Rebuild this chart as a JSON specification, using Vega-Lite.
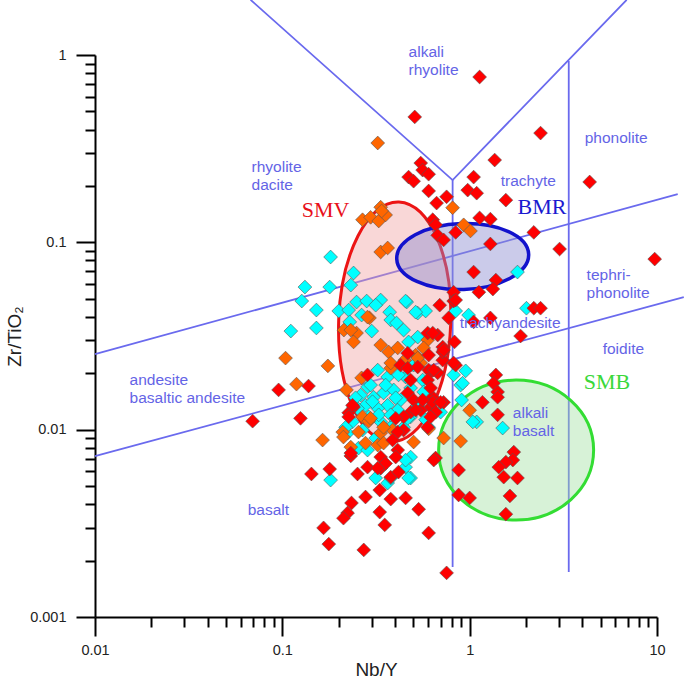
{
  "$schema": "https://vega.github.io/schema/vega-lite/v6.json",
  "width": 562,
  "height": 562,
  "autosize": "none",
  "padding": {"left": 95, "top": 55, "right": 28, "bottom": 69},
  "background": "white",
  "config": {
    "view": {"stroke": null},
    "axis": {
      "grid": false, "domainColor": "#000", "domainWidth": 2, "tickColor": "#000", "tickWidth": 2,
      "labelFont": "Liberation Sans", "labelFontSize": 14.5, "labelColor": "#222",
      "labelFlush": false, "labelOverlap": false,
      "titleFont": "Liberation Sans", "titleFontSize": 19, "titleFontWeight": "normal", "titleColor": "#222"
    }
  },
  "datasets": {
    "lines": [
      {"seg": "a", "pt": 1, "nb_y": 0.01, "zr_tio2": 0.0253}, {"seg": "a", "pt": 2, "nb_y": 12.9, "zr_tio2": 0.181},
      {"seg": "b", "pt": 1, "nb_y": 0.01, "zr_tio2": 0.00723}, {"seg": "b", "pt": 2, "nb_y": 13.9, "zr_tio2": 0.051},
      {"seg": "c", "pt": 1, "nb_y": 0.0677, "zr_tio2": 1.97}, {"seg": "c", "pt": 2, "nb_y": 0.811, "zr_tio2": 0.215}, {"seg": "c", "pt": 3, "nb_y": 6.89, "zr_tio2": 1.97},
      {"seg": "d", "pt": 1, "nb_y": 0.811, "zr_tio2": 0.215}, {"seg": "d", "pt": 2, "nb_y": 0.811, "zr_tio2": 0.00185},
      {"seg": "e", "pt": 1, "nb_y": 3.38, "zr_tio2": 0.929}, {"seg": "e", "pt": 2, "nb_y": 3.38, "zr_tio2": 0.00174}
    ],
    "regions": [
      {"region": "SMV", "nb_y": 0.398, "zr_tio2": 0.0376},
      {"region": "BMR", "nb_y": 0.918, "zr_tio2": 0.084},
      {"region": "SMB", "nb_y": 1.77, "zr_tio2": 0.00778}
    ],
    "region_labels": [
      {"region": "SMV", "nb_y": 0.127, "zr_tio2": 0.136},
      {"region": "BMR", "nb_y": 1.8, "zr_tio2": 0.1425},
      {"region": "SMB", "nb_y": 4.06, "zr_tio2": 0.0164}
    ],
    "zones": [
      {"zone": "alkali\nrhyolite", "nb_y": 0.472, "zr_tio2": 0.97},
      {"zone": "rhyolite\ndacite", "nb_y": 0.0685, "zr_tio2": 0.236},
      {"zone": "trachyte", "nb_y": 1.464, "zr_tio2": 0.201},
      {"zone": "phonolite", "nb_y": 4.11, "zr_tio2": 0.341},
      {"zone": "tephri-\nphonolite", "nb_y": 4.21, "zr_tio2": 0.0633},
      {"zone": "trachyandesite", "nb_y": 0.885, "zr_tio2": 0.0351},
      {"zone": "foidite", "nb_y": 5.13, "zr_tio2": 0.0252},
      {"zone": "andesite\nbasaltic andesite", "nb_y": 0.0153, "zr_tio2": 0.0174},
      {"zone": "basalt", "nb_y": 0.0653, "zr_tio2": 0.00352},
      {"zone": "alkali\nbasalt", "nb_y": 1.7, "zr_tio2": 0.0115}
    ],
    "points": [
      {"g": "G3", "nb_y": 0.181, "zr_tio2": 0.0835}, {"g": "G3", "nb_y": 0.24, "zr_tio2": 0.0686}, {"g": "G3", "nb_y": 0.232, "zr_tio2": 0.0591}, {"g": "G3", "nb_y": 0.179, "zr_tio2": 0.0577}, {"g": "G3", "nb_y": 0.132, "zr_tio2": 0.0577}, {"g": "G3", "nb_y": 0.127, "zr_tio2": 0.0486}, {"g": "G3", "nb_y": 0.152, "zr_tio2": 0.0435}, {"g": "G3", "nb_y": 0.111, "zr_tio2": 0.0336}, {"g": "G3", "nb_y": 0.152, "zr_tio2": 0.0349}, {"g": "G3", "nb_y": 0.2, "zr_tio2": 0.043}, {"g": "G3", "nb_y": 0.226, "zr_tio2": 0.0435}, {"g": "G3", "nb_y": 0.249, "zr_tio2": 0.048}, {"g": "G3", "nb_y": 0.282, "zr_tio2": 0.0486}, {"g": "G3", "nb_y": 0.335, "zr_tio2": 0.0492}, {"g": "G3", "nb_y": 0.315, "zr_tio2": 0.0462}, {"g": "G3", "nb_y": 0.265, "zr_tio2": 0.0409}, {"g": "G3", "nb_y": 0.229, "zr_tio2": 0.0376}, {"g": "G3", "nb_y": 0.3, "zr_tio2": 0.0336}, {"g": "G3", "nb_y": 0.374, "zr_tio2": 0.0424}, {"g": "G3", "nb_y": 0.379, "zr_tio2": 0.0385}, {"g": "G3", "nb_y": 0.407, "zr_tio2": 0.0371}, {"g": "G3", "nb_y": 0.444, "zr_tio2": 0.034}, {"g": "G3", "nb_y": 0.461, "zr_tio2": 0.048}, {"g": "G3", "nb_y": 0.528, "zr_tio2": 0.0419}, {"g": "G3", "nb_y": 0.582, "zr_tio2": 0.043}, {"g": "G3", "nb_y": 0.842, "zr_tio2": 0.043}, {"g": "G3", "nb_y": 0.528, "zr_tio2": 0.0312}, {"g": "G3", "nb_y": 0.472, "zr_tio2": 0.0294}, {"g": "G3", "nb_y": 1.8, "zr_tio2": 0.0694}, {"g": "G3", "nb_y": 2.01, "zr_tio2": 0.0445}, {"g": "G3", "nb_y": 0.987, "zr_tio2": 0.0409}, {"g": "G3", "nb_y": 0.821, "zr_tio2": 0.0196}, {"g": "G3", "nb_y": 0.952, "zr_tio2": 0.0206}, {"g": "G3", "nb_y": 0.895, "zr_tio2": 0.0173}, {"g": "G3", "nb_y": 0.906, "zr_tio2": 0.0144}, {"g": "G3", "nb_y": 1.09, "zr_tio2": 0.011}, {"g": "G3", "nb_y": 1.5, "zr_tio2": 0.0102}, {"g": "G3", "nb_y": 0.455, "zr_tio2": 0.0486}, {"g": "G3", "nb_y": 0.515, "zr_tio2": 0.0424}, {"g": "G3", "nb_y": 0.502, "zr_tio2": 0.0221}, {"g": "G3", "nb_y": 0.455, "zr_tio2": 0.0191}, {"g": "G3", "nb_y": 0.561, "zr_tio2": 0.0184}, {"g": "G3", "nb_y": 0.484, "zr_tio2": 0.0167}, {"g": "G3", "nb_y": 0.568, "zr_tio2": 0.0159}, {"g": "G3", "nb_y": 0.528, "zr_tio2": 0.0135}, {"g": "G3", "nb_y": 0.484, "zr_tio2": 0.0117}, {"g": "G3", "nb_y": 0.582, "zr_tio2": 0.0113}, {"g": "G3", "nb_y": 0.7, "zr_tio2": 0.0124}, {"g": "G3", "nb_y": 0.444, "zr_tio2": 0.0103}, {"g": "G3", "nb_y": 0.484, "zr_tio2": 0.00714}, {"g": "G3", "nb_y": 0.455, "zr_tio2": 0.00631}, {"g": "G3", "nb_y": 0.484, "zr_tio2": 0.00552}, {"g": "G3", "nb_y": 0.323, "zr_tio2": 0.0208}, {"g": "G3", "nb_y": 0.365, "zr_tio2": 0.0191}, {"g": "G3", "nb_y": 0.417, "zr_tio2": 0.0196}, {"g": "G3", "nb_y": 0.285, "zr_tio2": 0.0169}, {"g": "G3", "nb_y": 0.262, "zr_tio2": 0.0153}, {"g": "G3", "nb_y": 0.307, "zr_tio2": 0.0149}, {"g": "G3", "nb_y": 0.347, "zr_tio2": 0.0157}, {"g": "G3", "nb_y": 0.393, "zr_tio2": 0.0163}, {"g": "G3", "nb_y": 0.428, "zr_tio2": 0.0144}, {"g": "G3", "nb_y": 0.365, "zr_tio2": 0.0135}, {"g": "G3", "nb_y": 0.323, "zr_tio2": 0.013}, {"g": "G3", "nb_y": 0.278, "zr_tio2": 0.0135}, {"g": "G3", "nb_y": 0.252, "zr_tio2": 0.013}, {"g": "G3", "nb_y": 0.413, "zr_tio2": 0.0127}, {"g": "G3", "nb_y": 0.289, "zr_tio2": 0.0117}, {"g": "G3", "nb_y": 0.237, "zr_tio2": 0.011}, {"g": "G3", "nb_y": 0.223, "zr_tio2": 0.0096}, {"g": "G3", "nb_y": 0.218, "zr_tio2": 0.0103}, {"g": "G3", "nb_y": 0.255, "zr_tio2": 0.00797}, {"g": "G3", "nb_y": 0.285, "zr_tio2": 0.00778}, {"g": "G3", "nb_y": 0.379, "zr_tio2": 0.0103}, {"g": "G3", "nb_y": 0.335, "zr_tio2": 0.011}, {"g": "G3", "nb_y": 0.467, "zr_tio2": 0.0115}, {"g": "G3", "nb_y": 0.604, "zr_tio2": 0.0103}, {"g": "G3", "nb_y": 0.917, "zr_tio2": 0.0177}, {"g": "G3", "nb_y": 1.04, "zr_tio2": 0.011}, {"g": "G3", "nb_y": 0.181, "zr_tio2": 0.00538}, {"g": "G3", "nb_y": 0.315, "zr_tio2": 0.00552}, {"g": "G3", "nb_y": 0.335, "zr_tio2": 0.00624}, {"g": "G3", "nb_y": 0.365, "zr_tio2": 0.00519}, {"g": "G3", "nb_y": 0.379, "zr_tio2": 0.00552}, {"g": "G3", "nb_y": 0.472, "zr_tio2": 0.00552}, {"g": "G3", "nb_y": 0.455, "zr_tio2": 0.00688}, {"g": "G3", "nb_y": 0.296, "zr_tio2": 0.0173}, {"g": "G3", "nb_y": 0.356, "zr_tio2": 0.0173}, {"g": "G3", "nb_y": 0.403, "zr_tio2": 0.0148}, {"g": "G3", "nb_y": 0.327, "zr_tio2": 0.012}, {"g": "G3", "nb_y": 0.379, "zr_tio2": 0.012}, {"g": "G3", "nb_y": 0.246, "zr_tio2": 0.0148}, {"g": "G3", "nb_y": 0.303, "zr_tio2": 0.0141}, {"g": "G3", "nb_y": 0.268, "zr_tio2": 0.00995}, {"g": "G3", "nb_y": 0.315, "zr_tio2": 0.00902},
      {"g": "G2", "nb_y": 0.323, "zr_tio2": 0.339}, {"g": "G2", "nb_y": 0.811, "zr_tio2": 0.153}, {"g": "G2", "nb_y": 0.335, "zr_tio2": 0.154}, {"g": "G2", "nb_y": 0.268, "zr_tio2": 0.132}, {"g": "G2", "nb_y": 0.296, "zr_tio2": 0.136}, {"g": "G2", "nb_y": 0.327, "zr_tio2": 0.13}, {"g": "G2", "nb_y": 0.356, "zr_tio2": 0.14}, {"g": "G2", "nb_y": 0.339, "zr_tio2": 0.147}, {"g": "G2", "nb_y": 0.335, "zr_tio2": 0.0888}, {"g": "G2", "nb_y": 0.365, "zr_tio2": 0.0933}, {"g": "G2", "nb_y": 0.929, "zr_tio2": 0.124}, {"g": "G2", "nb_y": 1.01, "zr_tio2": 0.115}, {"g": "G2", "nb_y": 0.292, "zr_tio2": 0.0395}, {"g": "G2", "nb_y": 0.213, "zr_tio2": 0.034}, {"g": "G2", "nb_y": 0.249, "zr_tio2": 0.0328}, {"g": "G2", "nb_y": 0.597, "zr_tio2": 0.0301}, {"g": "G2", "nb_y": 0.104, "zr_tio2": 0.0241}, {"g": "G2", "nb_y": 0.175, "zr_tio2": 0.0219}, {"g": "G2", "nb_y": 0.119, "zr_tio2": 0.0175}, {"g": "G2", "nb_y": 0.22, "zr_tio2": 0.0163}, {"g": "G2", "nb_y": 0.265, "zr_tio2": 0.0189}, {"g": "G2", "nb_y": 0.379, "zr_tio2": 0.0213}, {"g": "G2", "nb_y": 0.515, "zr_tio2": 0.025}, {"g": "G2", "nb_y": 0.548, "zr_tio2": 0.0227}, {"g": "G2", "nb_y": 1.0, "zr_tio2": 0.0127}, {"g": "G2", "nb_y": 0.895, "zr_tio2": 0.00869}, {"g": "G2", "nb_y": 0.726, "zr_tio2": 0.00902}, {"g": "G2", "nb_y": 0.604, "zr_tio2": 0.0101}, {"g": "G2", "nb_y": 0.502, "zr_tio2": 0.00859}, {"g": "G2", "nb_y": 0.164, "zr_tio2": 0.0088}, {"g": "G2", "nb_y": 0.21, "zr_tio2": 0.00971}, {"g": "G2", "nb_y": 0.212, "zr_tio2": 0.00913}, {"g": "G2", "nb_y": 0.268, "zr_tio2": 0.0117}, {"g": "G2", "nb_y": 0.289, "zr_tio2": 0.0111}, {"g": "G2", "nb_y": 0.335, "zr_tio2": 0.0096}, {"g": "G2", "nb_y": 0.323, "zr_tio2": 0.00827}, {"g": "G2", "nb_y": 0.347, "zr_tio2": 0.00848}, {"g": "G2", "nb_y": 0.278, "zr_tio2": 0.00848}, {"g": "G2", "nb_y": 0.388, "zr_tio2": 0.00995}, {"g": "G2", "nb_y": 0.255, "zr_tio2": 0.00971}, {"g": "G2", "nb_y": 0.232, "zr_tio2": 0.00807}, {"g": "G2", "nb_y": 0.296, "zr_tio2": 0.0115}, {"g": "G2", "nb_y": 0.347, "zr_tio2": 0.0103}, {"g": "G2", "nb_y": 0.232, "zr_tio2": 0.034}, {"g": "G2", "nb_y": 0.24, "zr_tio2": 0.0294}, {"g": "G2", "nb_y": 0.285, "zr_tio2": 0.0399}, {"g": "G2", "nb_y": 0.335, "zr_tio2": 0.0283}, {"g": "G2", "nb_y": 0.369, "zr_tio2": 0.026}, {"g": "G2", "nb_y": 0.413, "zr_tio2": 0.0273}, {"g": "G2", "nb_y": 0.528, "zr_tio2": 0.0241}, {"g": "G2", "nb_y": 0.45, "zr_tio2": 0.0235}, {"g": "G2", "nb_y": 0.568, "zr_tio2": 0.0273}, {"g": "G2", "nb_y": 0.379, "zr_tio2": 0.0227},
      {"g": "G1", "nb_y": 1.13, "zr_tio2": 0.763}, {"g": "G1", "nb_y": 0.509, "zr_tio2": 0.467}, {"g": "G1", "nb_y": 2.39, "zr_tio2": 0.383}, {"g": "G1", "nb_y": 1.36, "zr_tio2": 0.275}, {"g": "G1", "nb_y": 4.37, "zr_tio2": 0.21}, {"g": "G1", "nb_y": 0.548, "zr_tio2": 0.265}, {"g": "G1", "nb_y": 0.561, "zr_tio2": 0.243}, {"g": "G1", "nb_y": 0.604, "zr_tio2": 0.231}, {"g": "G1", "nb_y": 0.472, "zr_tio2": 0.223}, {"g": "G1", "nb_y": 0.502, "zr_tio2": 0.212}, {"g": "G1", "nb_y": 0.604, "zr_tio2": 0.188}, {"g": "G1", "nb_y": 0.666, "zr_tio2": 0.162}, {"g": "G1", "nb_y": 0.753, "zr_tio2": 0.175}, {"g": "G1", "nb_y": 1.05, "zr_tio2": 0.223}, {"g": "G1", "nb_y": 0.976, "zr_tio2": 0.19}, {"g": "G1", "nb_y": 1.09, "zr_tio2": 0.183}, {"g": "G1", "nb_y": 1.56, "zr_tio2": 0.168}, {"g": "G1", "nb_y": 1.13, "zr_tio2": 0.135}, {"g": "G1", "nb_y": 1.29, "zr_tio2": 0.133}, {"g": "G1", "nb_y": 0.635, "zr_tio2": 0.132}, {"g": "G1", "nb_y": 0.658, "zr_tio2": 0.124}, {"g": "G1", "nb_y": 0.675, "zr_tio2": 0.109}, {"g": "G1", "nb_y": 0.726, "zr_tio2": 0.103}, {"g": "G1", "nb_y": 0.842, "zr_tio2": 0.113}, {"g": "G1", "nb_y": 2.2, "zr_tio2": 0.113}, {"g": "G1", "nb_y": 1.29, "zr_tio2": 0.098}, {"g": "G1", "nb_y": 3.02, "zr_tio2": 0.0921}, {"g": "G1", "nb_y": 9.72, "zr_tio2": 0.0814}, {"g": "G1", "nb_y": 1.05, "zr_tio2": 0.0694}, {"g": "G1", "nb_y": 1.38, "zr_tio2": 0.0629}, {"g": "G1", "nb_y": 1.33, "zr_tio2": 0.0563}, {"g": "G1", "nb_y": 1.12, "zr_tio2": 0.0542}, {"g": "G1", "nb_y": 0.821, "zr_tio2": 0.0542}, {"g": "G1", "nb_y": 0.821, "zr_tio2": 0.0486}, {"g": "G1", "nb_y": 0.692, "zr_tio2": 0.0462}, {"g": "G1", "nb_y": 0.772, "zr_tio2": 0.0395}, {"g": "G1", "nb_y": 1.29, "zr_tio2": 0.0395}, {"g": "G1", "nb_y": 1.05, "zr_tio2": 0.0376}, {"g": "G1", "nb_y": 2.2, "zr_tio2": 0.0445}, {"g": "G1", "nb_y": 2.39, "zr_tio2": 0.0445}, {"g": "G1", "nb_y": 1.87, "zr_tio2": 0.0316}, {"g": "G1", "nb_y": 0.83, "zr_tio2": 0.0294}, {"g": "G1", "nb_y": 0.718, "zr_tio2": 0.0276}, {"g": "G1", "nb_y": 0.675, "zr_tio2": 0.032}, {"g": "G1", "nb_y": 0.597, "zr_tio2": 0.0328}, {"g": "G1", "nb_y": 0.842, "zr_tio2": 0.0221}, {"g": "G1", "nb_y": 0.718, "zr_tio2": 0.0235}, {"g": "G1", "nb_y": 1.38, "zr_tio2": 0.0196}, {"g": "G1", "nb_y": 1.34, "zr_tio2": 0.0177}, {"g": "G1", "nb_y": 1.41, "zr_tio2": 0.0159}, {"g": "G1", "nb_y": 1.41, "zr_tio2": 0.0149}, {"g": "G1", "nb_y": 1.17, "zr_tio2": 0.014}, {"g": "G1", "nb_y": 1.41, "zr_tio2": 0.012}, {"g": "G1", "nb_y": 0.726, "zr_tio2": 0.014}, {"g": "G1", "nb_y": 0.619, "zr_tio2": 0.0203}, {"g": "G1", "nb_y": 0.635, "zr_tio2": 0.0149}, {"g": "G1", "nb_y": 0.619, "zr_tio2": 0.0132}, {"g": "G1", "nb_y": 1.72, "zr_tio2": 0.00759}, {"g": "G1", "nb_y": 1.7, "zr_tio2": 0.00688}, {"g": "G1", "nb_y": 1.56, "zr_tio2": 0.00671}, {"g": "G1", "nb_y": 1.43, "zr_tio2": 0.00631}, {"g": "G1", "nb_y": 1.52, "zr_tio2": 0.00558}, {"g": "G1", "nb_y": 1.8, "zr_tio2": 0.00552}, {"g": "G1", "nb_y": 0.873, "zr_tio2": 0.00609}, {"g": "G1", "nb_y": 0.658, "zr_tio2": 0.00706}, {"g": "G1", "nb_y": 0.873, "zr_tio2": 0.00448}, {"g": "G1", "nb_y": 1.0, "zr_tio2": 0.00432}, {"g": "G1", "nb_y": 1.64, "zr_tio2": 0.00443}, {"g": "G1", "nb_y": 1.56, "zr_tio2": 0.00354}, {"g": "G1", "nb_y": 0.753, "zr_tio2": 0.00172}, {"g": "G1", "nb_y": 0.143, "zr_tio2": 0.0058}, {"g": "G1", "nb_y": 0.179, "zr_tio2": 0.00616}, {"g": "G1", "nb_y": 0.252, "zr_tio2": 0.0058}, {"g": "G1", "nb_y": 0.285, "zr_tio2": 0.00631}, {"g": "G1", "nb_y": 0.335, "zr_tio2": 0.00624}, {"g": "G1", "nb_y": 0.379, "zr_tio2": 0.00558}, {"g": "G1", "nb_y": 0.417, "zr_tio2": 0.00594}, {"g": "G1", "nb_y": 0.331, "zr_tio2": 0.00476}, {"g": "G1", "nb_y": 0.278, "zr_tio2": 0.00437}, {"g": "G1", "nb_y": 0.379, "zr_tio2": 0.00426}, {"g": "G1", "nb_y": 0.455, "zr_tio2": 0.00432}, {"g": "G1", "nb_y": 0.534, "zr_tio2": 0.00376}, {"g": "G1", "nb_y": 0.234, "zr_tio2": 0.00406}, {"g": "G1", "nb_y": 0.223, "zr_tio2": 0.00359}, {"g": "G1", "nb_y": 0.212, "zr_tio2": 0.00337}, {"g": "G1", "nb_y": 0.166, "zr_tio2": 0.00299}, {"g": "G1", "nb_y": 0.331, "zr_tio2": 0.00363}, {"g": "G1", "nb_y": 0.352, "zr_tio2": 0.0031}, {"g": "G1", "nb_y": 0.604, "zr_tio2": 0.00281}, {"g": "G1", "nb_y": 0.177, "zr_tio2": 0.00245}, {"g": "G1", "nb_y": 0.272, "zr_tio2": 0.00228}, {"g": "G1", "nb_y": 0.232, "zr_tio2": 0.00724}, {"g": "G1", "nb_y": 0.0694, "zr_tio2": 0.0111}, {"g": "G1", "nb_y": 0.125, "zr_tio2": 0.0115}, {"g": "G1", "nb_y": 0.0955, "zr_tio2": 0.0163}, {"g": "G1", "nb_y": 0.138, "zr_tio2": 0.0171}, {"g": "G1", "nb_y": 0.718, "zr_tio2": 0.026}, {"g": "G1", "nb_y": 0.604, "zr_tio2": 0.025}, {"g": "G1", "nb_y": 0.467, "zr_tio2": 0.0256}, {"g": "G1", "nb_y": 0.428, "zr_tio2": 0.0221}, {"g": "G1", "nb_y": 0.467, "zr_tio2": 0.0213}, {"g": "G1", "nb_y": 0.285, "zr_tio2": 0.0196}, {"g": "G1", "nb_y": 0.604, "zr_tio2": 0.0208}, {"g": "G1", "nb_y": 0.675, "zr_tio2": 0.0201}, {"g": "G1", "nb_y": 0.597, "zr_tio2": 0.0184}, {"g": "G1", "nb_y": 0.467, "zr_tio2": 0.0157}, {"g": "G1", "nb_y": 0.502, "zr_tio2": 0.0144}, {"g": "G1", "nb_y": 0.635, "zr_tio2": 0.014}, {"g": "G1", "nb_y": 0.548, "zr_tio2": 0.0127}, {"g": "G1", "nb_y": 0.484, "zr_tio2": 0.0124}, {"g": "G1", "nb_y": 0.444, "zr_tio2": 0.0117}, {"g": "G1", "nb_y": 0.403, "zr_tio2": 0.0115}, {"g": "G1", "nb_y": 0.658, "zr_tio2": 0.0124}, {"g": "G1", "nb_y": 0.597, "zr_tio2": 0.0103}, {"g": "G1", "nb_y": 0.444, "zr_tio2": 0.00995}, {"g": "G1", "nb_y": 0.413, "zr_tio2": 0.00971}, {"g": "G1", "nb_y": 0.388, "zr_tio2": 0.0088}, {"g": "G1", "nb_y": 0.24, "zr_tio2": 0.0132}, {"g": "G1", "nb_y": 0.226, "zr_tio2": 0.0123}, {"g": "G1", "nb_y": 0.821, "zr_tio2": 0.0227}, {"g": "G1", "nb_y": 0.413, "zr_tio2": 0.00778}, {"g": "G1", "nb_y": 0.403, "zr_tio2": 0.00714}, {"g": "G1", "nb_y": 0.335, "zr_tio2": 0.00714}, {"g": "G1", "nb_y": 0.232, "zr_tio2": 0.0075}, {"g": "G1", "nb_y": 0.842, "zr_tio2": 0.0492}, {"g": "G1", "nb_y": 0.635, "zr_tio2": 0.0328}, {"g": "G1", "nb_y": 0.726, "zr_tio2": 0.0266}, {"g": "G1", "nb_y": 0.528, "zr_tio2": 0.0216}, {"g": "G1", "nb_y": 0.643, "zr_tio2": 0.0208}, {"g": "G1", "nb_y": 0.484, "zr_tio2": 0.0184}, {"g": "G1", "nb_y": 0.619, "zr_tio2": 0.0167}, {"g": "G1", "nb_y": 0.561, "zr_tio2": 0.0144}, {"g": "G1", "nb_y": 0.7, "zr_tio2": 0.014}, {"g": "G1", "nb_y": 0.515, "zr_tio2": 0.0127}, {"g": "G1", "nb_y": 0.619, "zr_tio2": 0.0117}, {"g": "G1", "nb_y": 0.643, "zr_tio2": 0.00688}, {"g": "G1", "nb_y": 0.356, "zr_tio2": 0.0066}, {"g": "G1", "nb_y": 0.323, "zr_tio2": 0.00624}, {"g": "G1", "nb_y": 0.237, "zr_tio2": 0.0135}, {"g": "G1", "nb_y": 0.226, "zr_tio2": 0.0117}
    ]
  },
  "encoding": {
    "x": {"field": "nb_y", "type": "quantitative", "scale": {"type": "log", "domain": [0.01, 10], "nice": false}, "axis": null},
    "y": {"field": "zr_tio2", "type": "quantitative", "scale": {"type": "log", "domain": [0.001, 1], "nice": false}, "axis": null}
  },
  "layer": [
    {
      "data": {"name": "lines"},
      "mark": {"type": "line", "color": "#6a6aee", "strokeWidth": 1.8},
      "encoding": {
        "x": {
          "field": "nb_y", "type": "quantitative",
          "scale": {"type": "log", "domain": [0.01, 10], "nice": false},
          "axis": {
            "orient": "bottom", "title": "Nb/Y", "values": [0.01, 0.1, 1, 10],
            "labelExpr": "'' + datum.value", "tickSize": 19, "labelPadding": 7, "titlePadding": 4
          }
        },
        "y": {
          "field": "zr_tio2", "type": "quantitative",
          "scale": {"type": "log", "domain": [0.001, 1], "nice": false},
          "axis": {
            "orient": "left", "title": "Zr/TiO₂", "values": [0.001, 0.01, 0.1, 1],
            "labelExpr": "'' + datum.value", "tickSize": 19, "labelPadding": 10, "titlePadding": 5
          }
        },
        "detail": {"field": "seg"},
        "order": {"field": "pt", "type": "quantitative"}
      }
    },
    {
      "data": {"name": "regions"},
      "transform": [{"filter": "datum.region === 'SMV'"}],
      "mark": {"type": "point", "shape": "M0.467,0C0.467,0.552,0.258,1,0,1C-0.258,1,-0.467,0.552,-0.467,0C-0.467,-0.552,-0.258,-1,0,-1C0.258,-1,0.467,-0.552,0.467,0Z", "size": 57600, "angle": 2, "filled": true, "opacity": 1, "fill": "#f0a0a0", "fillOpacity": 0.42, "stroke": "#ec1414", "strokeWidth": 3, "strokeOpacity": 1},
      "encoding": {
        "x": {
          "field": "nb_y", "type": "quantitative",
          "scale": {"type": "log", "domain": [0.01, 10], "nice": false},
          "axis": {
            "orient": "bottom", "title": null, "domain": false, "labels": false, "tickSize": 10,
            "values": [0.02, 0.03, 0.04, 0.05, 0.06, 0.07, 0.08, 0.09, 0.2, 0.3, 0.4, 0.5, 0.6, 0.7, 0.8, 0.9, 2, 3, 4, 5, 6, 7, 8, 9]
          }
        },
        "y": {
          "field": "zr_tio2", "type": "quantitative",
          "scale": {"type": "log", "domain": [0.001, 1], "nice": false},
          "axis": {
            "orient": "left", "title": null, "domain": false, "labels": false, "tickSize": 10,
            "values": [0.002, 0.003, 0.004, 0.005, 0.006, 0.007, 0.008, 0.009, 0.02, 0.03, 0.04, 0.05, 0.06, 0.07, 0.08, 0.09, 0.2, 0.3, 0.4, 0.5, 0.6, 0.7, 0.8, 0.9]
          }
        }
      }
    },
    {
      "data": {"name": "regions"},
      "transform": [{"filter": "datum.region === 'BMR'"}],
      "mark": {"type": "point", "shape": "M1,0C1,0.276,0.552,0.5,0,0.5C-0.552,0.5,-1,0.276,-1,0C-1,-0.276,-0.552,-0.5,0,-0.5C0.552,-0.5,1,-0.276,1,0Z", "size": 17424, "angle": -2, "filled": true, "opacity": 1, "fill": "#8c8cd0", "fillOpacity": 0.45, "stroke": "#1212cc", "strokeWidth": 3.5, "strokeOpacity": 1},
      "encoding": {}
    },
    {
      "data": {"name": "regions"},
      "transform": [{"filter": "datum.region === 'SMB'"}],
      "mark": {"type": "point", "shape": "M1,0C1,0.499,0.552,0.903,0,0.903C-0.552,0.903,-1,0.499,-1,0C-1,-0.499,-0.552,-0.903,0,-0.903C0.552,-0.903,1,-0.499,1,0Z", "size": 24025, "filled": true, "opacity": 1, "fill": "#a0e0a0", "fillOpacity": 0.42, "stroke": "#33dd33", "strokeWidth": 3, "strokeOpacity": 1},
      "encoding": {}
    },
    {
      "data": {"name": "points"},
      "mark": {"type": "point", "shape": "diamond", "filled": true, "size": 190, "opacity": 1, "stroke": "#555", "strokeWidth": 0.6},
      "encoding": {
        "fill": {"field": "g", "type": "nominal", "scale": {"domain": ["G1", "G2", "G3"], "range": ["#ff0000", "#ff6600", "#00ffff"]}, "legend": null}
      }
    },
    {
      "data": {"name": "zones"},
      "mark": {"type": "text", "align": "left", "baseline": "alphabetic", "font": "Liberation Sans", "fontSize": 15.5, "color": "#6464e6", "lineBreak": "\n", "lineHeight": 18},
      "encoding": {"text": {"field": "zone"}}
    },
    {
      "data": {"name": "region_labels"},
      "mark": {"type": "text", "align": "left", "baseline": "alphabetic", "font": "Liberation Serif", "fontSize": 22},
      "encoding": {
        "text": {"field": "region"},
        "color": {"field": "region", "type": "nominal", "scale": {"domain": ["SMV", "BMR", "SMB"], "range": ["#e8101a", "#1a1ad0", "#3ad83a"]}, "legend": null}
      }
    }
  ],
  "resolve": {"scale": {"color": "independent", "fill": "independent"}, "axis": {"x": "independent", "y": "independent"}}
}
